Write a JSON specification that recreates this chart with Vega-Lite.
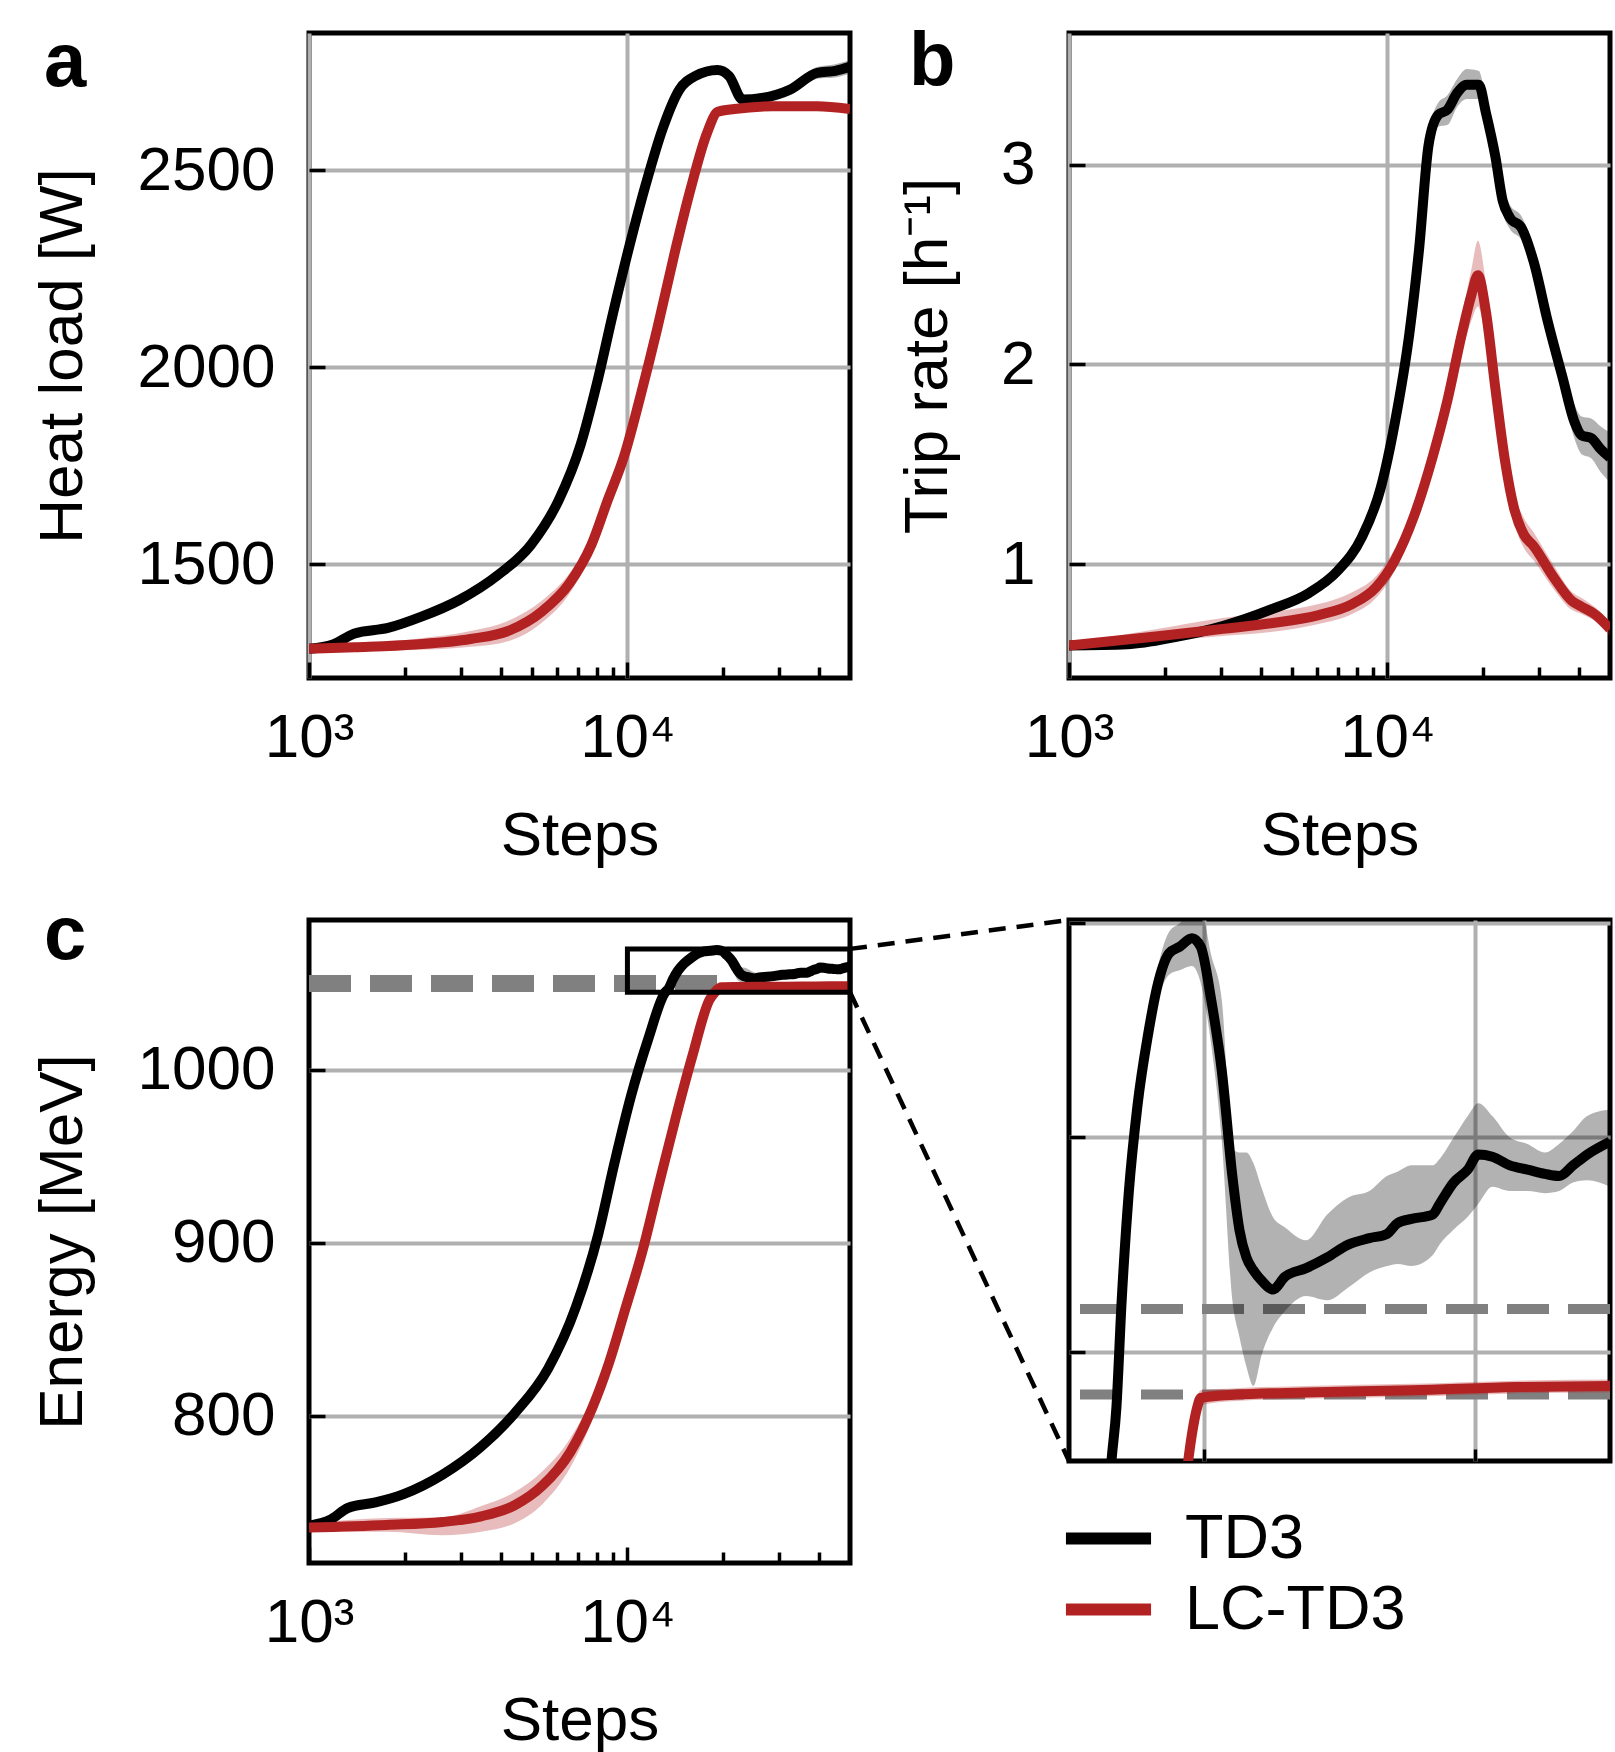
{
  "$schema": "https://vega.github.io/schema/vega-lite/v6.json",
  "padding": {"left": 28, "top": 21, "right": 0, "bottom": 0},
  "bounds": "flush",
  "columns": 2,
  "spacing": {"row": 242, "column": 219},
  "resolve": {"scale": {"color": "independent", "fill": "independent"}, "legend": {"color": "independent", "fill": "independent"}},
  "config": {
    "font": "Liberation Sans",
    "view": {"stroke": "black", "strokeWidth": 5},
    "axis": {
      "domain": false,
      "grid": true, "gridColor": "#b0b0b0", "gridWidth": 4,
      "ticks": true, "tickColor": "black", "tickWidth": 3.5, "tickSize": -16,
      "labelFont": "Liberation Sans", "labelFontSize": 62, "labelColor": "black", "labelPadding": 50,
      "labelFlush": false, "labelOverlap": false, "format": "d",
      "titleFont": "Liberation Sans", "titleFontSize": 62, "titleFontWeight": "normal", "titleColor": "black"
    },
    "line": {"interpolate": "monotone"},
    "area": {"interpolate": "monotone"},
    "title": {"font": "Liberation Sans", "fontSize": 76, "fontWeight": "bold", "color": "black", "anchor": "start", "frame": "group", "offset": 0, "baseline": "alphabetic"}
  },
  "datasets": {
    "a": [
      {"step": 1000, "mean": 1285, "lo": 1278, "hi": 1292, "algo": "TD3"},
      {"step": 1189, "mean": 1296, "lo": 1288, "hi": 1304, "algo": "TD3"},
      {"step": 1390, "mean": 1324, "lo": 1315, "hi": 1333, "algo": "TD3"},
      {"step": 1770, "mean": 1338, "lo": 1328, "hi": 1348, "algo": "TD3"},
      {"step": 2244, "mean": 1366, "lo": 1355, "hi": 1377, "algo": "TD3"},
      {"step": 2965, "mean": 1409, "lo": 1397, "hi": 1421, "algo": "TD3"},
      {"step": 3917, "mean": 1472, "lo": 1459, "hi": 1485, "algo": "TD3"},
      {"step": 4977, "mean": 1549, "lo": 1535, "hi": 1563, "algo": "TD3"},
      {"step": 6081, "mean": 1662, "lo": 1648, "hi": 1676, "algo": "TD3"},
      {"step": 7129, "mean": 1803, "lo": 1789, "hi": 1817, "algo": "TD3"},
      {"step": 8017, "mean": 1958, "lo": 1944, "hi": 1972, "algo": "TD3"},
      {"step": 9036, "mean": 2141, "lo": 2127, "hi": 2155, "algo": "TD3"},
      {"step": 10162, "mean": 2310, "lo": 2296, "hi": 2324, "algo": "TD3"},
      {"step": 11429, "mean": 2465, "lo": 2452, "hi": 2478, "algo": "TD3"},
      {"step": 12912, "mean": 2606, "lo": 2594, "hi": 2618, "algo": "TD3"},
      {"step": 14555, "mean": 2704, "lo": 2693, "hi": 2715, "algo": "TD3"},
      {"step": 16368, "mean": 2739, "lo": 2729, "hi": 2749, "algo": "TD3"},
      {"step": 19187, "mean": 2754, "lo": 2744, "hi": 2764, "algo": "TD3"},
      {"step": 20845, "mean": 2739, "lo": 2729, "hi": 2749, "algo": "TD3"},
      {"step": 23014, "mean": 2679, "lo": 2668, "hi": 2690, "algo": "TD3"},
      {"step": 26485, "mean": 2683, "lo": 2670, "hi": 2696, "algo": "TD3"},
      {"step": 32359, "mean": 2704, "lo": 2690, "hi": 2718, "algo": "TD3"},
      {"step": 39446, "mean": 2747, "lo": 2732, "hi": 2762, "algo": "TD3"},
      {"step": 45000, "mean": 2752, "lo": 2735, "hi": 2769, "algo": "TD3"},
      {"step": 50000, "mean": 2762, "lo": 2745, "hi": 2779, "algo": "TD3"},
      {"step": 1000, "mean": 1285, "lo": 1280, "hi": 1290, "algo": "LC-TD3"},
      {"step": 1390, "mean": 1289, "lo": 1280, "hi": 1298, "algo": "LC-TD3"},
      {"step": 2153, "mean": 1296, "lo": 1282, "hi": 1310, "algo": "LC-TD3"},
      {"step": 3214, "mean": 1310, "lo": 1290, "hi": 1330, "algo": "LC-TD3"},
      {"step": 4246, "mean": 1331, "lo": 1305, "hi": 1357, "algo": "LC-TD3"},
      {"step": 5395, "mean": 1380, "lo": 1352, "hi": 1408, "algo": "LC-TD3"},
      {"step": 6577, "mean": 1451, "lo": 1425, "hi": 1477, "algo": "LC-TD3"},
      {"step": 7709, "mean": 1549, "lo": 1528, "hi": 1570, "algo": "LC-TD3"},
      {"step": 8670, "mean": 1662, "lo": 1645, "hi": 1679, "algo": "LC-TD3"},
      {"step": 9772, "mean": 1775, "lo": 1760, "hi": 1790, "algo": "LC-TD3"},
      {"step": 11015, "mean": 1930, "lo": 1917, "hi": 1943, "algo": "LC-TD3"},
      {"step": 12417, "mean": 2099, "lo": 2087, "hi": 2111, "algo": "LC-TD3"},
      {"step": 13996, "mean": 2282, "lo": 2271, "hi": 2293, "algo": "LC-TD3"},
      {"step": 15776, "mean": 2451, "lo": 2441, "hi": 2461, "algo": "LC-TD3"},
      {"step": 17742, "mean": 2592, "lo": 2583, "hi": 2601, "algo": "LC-TD3"},
      {"step": 19231, "mean": 2648, "lo": 2640, "hi": 2656, "algo": "LC-TD3"},
      {"step": 21677, "mean": 2655, "lo": 2647, "hi": 2663, "algo": "LC-TD3"},
      {"step": 28642, "mean": 2662, "lo": 2654, "hi": 2670, "algo": "LC-TD3"},
      {"step": 39355, "mean": 2662, "lo": 2654, "hi": 2670, "algo": "LC-TD3"},
      {"step": 50000, "mean": 2655, "lo": 2646, "hi": 2664, "algo": "LC-TD3"}
    ],
    "b": [
      {"step": 1000, "mean": 0.593, "lo": 0.585, "hi": 0.601, "algo": "TD3"},
      {"step": 1524, "mean": 0.599, "lo": 0.59, "hi": 0.608, "algo": "TD3"},
      {"step": 2153, "mean": 0.635, "lo": 0.625, "hi": 0.645, "algo": "TD3"},
      {"step": 3041, "mean": 0.69, "lo": 0.678, "hi": 0.702, "algo": "TD3"},
      {"step": 4305, "mean": 0.773, "lo": 0.758, "hi": 0.788, "algo": "TD3"},
      {"step": 5675, "mean": 0.856, "lo": 0.838, "hi": 0.874, "algo": "TD3"},
      {"step": 6982, "mean": 0.967, "lo": 0.945, "hi": 0.989, "algo": "TD3"},
      {"step": 8299, "mean": 1.133, "lo": 1.11, "hi": 1.156, "algo": "TD3"},
      {"step": 9528, "mean": 1.382, "lo": 1.36, "hi": 1.404, "algo": "TD3"},
      {"step": 10568, "mean": 1.714, "lo": 1.69, "hi": 1.738, "algo": "TD3"},
      {"step": 11722, "mean": 2.156, "lo": 2.13, "hi": 2.182, "algo": "TD3"},
      {"step": 12560, "mean": 2.571, "lo": 2.54, "hi": 2.6, "algo": "TD3"},
      {"step": 13459, "mean": 3.097, "lo": 3.05, "hi": 3.14, "algo": "TD3"},
      {"step": 14421, "mean": 3.249, "lo": 3.19, "hi": 3.31, "algo": "TD3"},
      {"step": 15453, "mean": 3.277, "lo": 3.2, "hi": 3.35, "algo": "TD3"},
      {"step": 16558, "mean": 3.36, "lo": 3.29, "hi": 3.43, "algo": "TD3"},
      {"step": 17742, "mean": 3.401, "lo": 3.33, "hi": 3.48, "algo": "TD3"},
      {"step": 19364, "mean": 3.401, "lo": 3.33, "hi": 3.47, "algo": "TD3"},
      {"step": 20370, "mean": 3.263, "lo": 3.2, "hi": 3.33, "algo": "TD3"},
      {"step": 21827, "mean": 3.041, "lo": 2.98, "hi": 3.1, "algo": "TD3"},
      {"step": 23014, "mean": 2.82, "lo": 2.76, "hi": 2.88, "algo": "TD3"},
      {"step": 24210, "mean": 2.737, "lo": 2.68, "hi": 2.8, "algo": "TD3"},
      {"step": 26424, "mean": 2.682, "lo": 2.62, "hi": 2.74, "algo": "TD3"},
      {"step": 28774, "mean": 2.516, "lo": 2.45, "hi": 2.58, "algo": "TD3"},
      {"step": 31915, "mean": 2.212, "lo": 2.15, "hi": 2.28, "algo": "TD3"},
      {"step": 35481, "mean": 1.935, "lo": 1.87, "hi": 2.0, "algo": "TD3"},
      {"step": 38637, "mean": 1.714, "lo": 1.63, "hi": 1.8, "algo": "TD3"},
      {"step": 40738, "mean": 1.645, "lo": 1.55, "hi": 1.74, "algo": "TD3"},
      {"step": 43652, "mean": 1.631, "lo": 1.53, "hi": 1.73, "algo": "TD3"},
      {"step": 46774, "mean": 1.575, "lo": 1.46, "hi": 1.69, "algo": "TD3"},
      {"step": 50000, "mean": 1.534, "lo": 1.41, "hi": 1.66, "algo": "TD3"},
      {"step": 1000, "mean": 0.593, "lo": 0.585, "hi": 0.601, "algo": "LC-TD3"},
      {"step": 1811, "mean": 0.635, "lo": 0.61, "hi": 0.67, "algo": "LC-TD3"},
      {"step": 3041, "mean": 0.676, "lo": 0.64, "hi": 0.73, "algo": "LC-TD3"},
      {"step": 4305, "mean": 0.704, "lo": 0.66, "hi": 0.76, "algo": "LC-TD3"},
      {"step": 6081, "mean": 0.745, "lo": 0.7, "hi": 0.8, "algo": "LC-TD3"},
      {"step": 7745, "mean": 0.8, "lo": 0.75, "hi": 0.86, "algo": "LC-TD3"},
      {"step": 9204, "mean": 0.884, "lo": 0.83, "hi": 0.94, "algo": "LC-TD3"},
      {"step": 10568, "mean": 1.022, "lo": 0.97, "hi": 1.08, "algo": "LC-TD3"},
      {"step": 12134, "mean": 1.243, "lo": 1.19, "hi": 1.3, "algo": "LC-TD3"},
      {"step": 13932, "mean": 1.548, "lo": 1.49, "hi": 1.61, "algo": "LC-TD3"},
      {"step": 15453, "mean": 1.824, "lo": 1.75, "hi": 1.9, "algo": "LC-TD3"},
      {"step": 17140, "mean": 2.156, "lo": 2.06, "hi": 2.25, "algo": "LC-TD3"},
      {"step": 18365, "mean": 2.35, "lo": 2.22, "hi": 2.48, "algo": "LC-TD3"},
      {"step": 19231, "mean": 2.447, "lo": 2.29, "hi": 2.62, "algo": "LC-TD3"},
      {"step": 20370, "mean": 2.267, "lo": 2.12, "hi": 2.41, "algo": "LC-TD3"},
      {"step": 21827, "mean": 1.88, "lo": 1.77, "hi": 1.99, "algo": "LC-TD3"},
      {"step": 23388, "mean": 1.52, "lo": 1.43, "hi": 1.61, "algo": "LC-TD3"},
      {"step": 25061, "mean": 1.271, "lo": 1.2, "hi": 1.35, "algo": "LC-TD3"},
      {"step": 26853, "mean": 1.147, "lo": 1.08, "hi": 1.23, "algo": "LC-TD3"},
      {"step": 28774, "mean": 1.091, "lo": 1.02, "hi": 1.16, "algo": "LC-TD3"},
      {"step": 33113, "mean": 0.939, "lo": 0.88, "hi": 1.0, "algo": "LC-TD3"},
      {"step": 38019, "mean": 0.815, "lo": 0.77, "hi": 0.86, "algo": "LC-TD3"},
      {"step": 40738, "mean": 0.787, "lo": 0.75, "hi": 0.83, "algo": "LC-TD3"},
      {"step": 45186, "mean": 0.745, "lo": 0.71, "hi": 0.78, "algo": "LC-TD3"},
      {"step": 50000, "mean": 0.676, "lo": 0.64, "hi": 0.71, "algo": "LC-TD3"}
    ],
    "c": [
      {"step": 1000, "mean": 736.5, "lo": 734, "hi": 739, "algo": "TD3"},
      {"step": 1175, "mean": 740.3, "lo": 738, "hi": 742.6, "algo": "TD3"},
      {"step": 1324, "mean": 746.8, "lo": 744.5, "hi": 749, "algo": "TD3"},
      {"step": 1618, "mean": 750, "lo": 747.5, "hi": 752.5, "algo": "TD3"},
      {"step": 1982, "mean": 754.8, "lo": 752, "hi": 757.6, "algo": "TD3"},
      {"step": 2624, "mean": 766, "lo": 763, "hi": 769, "algo": "TD3"},
      {"step": 3475, "mean": 782.3, "lo": 779, "hi": 785.6, "algo": "TD3"},
      {"step": 4426, "mean": 801.6, "lo": 798, "hi": 805.2, "algo": "TD3"},
      {"step": 5636, "mean": 827.4, "lo": 824, "hi": 831, "algo": "TD3"},
      {"step": 6887, "mean": 862.9, "lo": 859.5, "hi": 866.3, "algo": "TD3"},
      {"step": 8091, "mean": 904.8, "lo": 901.5, "hi": 908.1, "algo": "TD3"},
      {"step": 9120, "mean": 946.8, "lo": 943.5, "hi": 950, "algo": "TD3"},
      {"step": 10280, "mean": 985.5, "lo": 982.5, "hi": 988.5, "algo": "TD3"},
      {"step": 11614, "mean": 1017.7, "lo": 1015, "hi": 1020.4, "algo": "TD3"},
      {"step": 13092, "mean": 1044.5, "lo": 1043, "hi": 1046, "algo": "TD3"},
      {"step": 13506, "mean": 1047.4, "lo": 1046.9, "hi": 1047.9, "algo": "TD3"},
      {"step": 13896, "mean": 1052.4, "lo": 1051.9, "hi": 1052.9, "algo": "TD3"},
      {"step": 14416, "mean": 1057.4, "lo": 1056.9, "hi": 1057.9, "algo": "TD3"},
      {"step": 15065, "mean": 1061.5, "lo": 1061, "hi": 1062, "algo": "TD3"},
      {"step": 15844, "mean": 1064.8, "lo": 1064.2, "hi": 1065.4, "algo": "TD3"},
      {"step": 16623, "mean": 1067.3, "lo": 1066.5, "hi": 1068.1, "algo": "TD3"},
      {"step": 17403, "mean": 1068.6, "lo": 1067.6, "hi": 1069.6, "algo": "TD3"},
      {"step": 18182, "mean": 1068.9, "lo": 1067.8, "hi": 1070.0, "algo": "TD3"},
      {"step": 19091, "mean": 1069.3, "lo": 1068.0, "hi": 1070.6, "algo": "TD3"},
      {"step": 19740, "mean": 1068.9, "lo": 1067.2, "hi": 1070.6, "algo": "TD3"},
      {"step": 20519, "mean": 1066.4, "lo": 1064.3, "hi": 1068.5, "algo": "TD3"},
      {"step": 21299, "mean": 1063.1, "lo": 1059.8, "hi": 1066.4, "algo": "TD3"},
      {"step": 22078, "mean": 1058.2, "lo": 1052.4, "hi": 1059.5, "algo": "TD3"},
      {"step": 22597, "mean": 1055.7, "lo": 1050.7, "hi": 1059.3, "algo": "TD3"},
      {"step": 23117, "mean": 1054.4, "lo": 1049.3, "hi": 1059.3, "algo": "TD3"},
      {"step": 23636, "mean": 1053.8, "lo": 1048.4, "hi": 1058.8, "algo": "TD3"},
      {"step": 24270, "mean": 1053.3, "lo": 1049.9, "hi": 1057.6, "algo": "TD3"},
      {"step": 25065, "mean": 1052.9, "lo": 1051.1, "hi": 1056.3, "algo": "TD3"},
      {"step": 25974, "mean": 1053.5, "lo": 1051.9, "hi": 1055.8, "algo": "TD3"},
      {"step": 27532, "mean": 1053.9, "lo": 1052.6, "hi": 1055.2, "algo": "TD3"},
      {"step": 29091, "mean": 1054.4, "lo": 1052.4, "hi": 1056.4, "algo": "TD3"},
      {"step": 30649, "mean": 1055.0, "lo": 1053.0, "hi": 1057.2, "algo": "TD3"},
      {"step": 32208, "mean": 1055.3, "lo": 1053.7, "hi": 1057.5, "algo": "TD3"},
      {"step": 33506, "mean": 1055.5, "lo": 1054.0, "hi": 1058.2, "algo": "TD3"},
      {"step": 34286, "mean": 1056.0, "lo": 1054.1, "hi": 1058.4, "algo": "TD3"},
      {"step": 35325, "mean": 1056.2, "lo": 1054.0, "hi": 1058.7, "algo": "TD3"},
      {"step": 36883, "mean": 1056.4, "lo": 1054.5, "hi": 1058.7, "algo": "TD3"},
      {"step": 37403, "mean": 1056.9, "lo": 1055.0, "hi": 1059.0, "algo": "TD3"},
      {"step": 38442, "mean": 1057.9, "lo": 1055.7, "hi": 1060.0, "algo": "TD3"},
      {"step": 39481, "mean": 1058.5, "lo": 1056.3, "hi": 1061.0, "algo": "TD3"},
      {"step": 40260, "mean": 1059.2, "lo": 1056.9, "hi": 1061.6, "algo": "TD3"},
      {"step": 41299, "mean": 1059.1, "lo": 1057.7, "hi": 1061.0, "algo": "TD3"},
      {"step": 42597, "mean": 1058.7, "lo": 1057.5, "hi": 1060.0, "algo": "TD3"},
      {"step": 43896, "mean": 1058.5, "lo": 1057.5, "hi": 1059.7, "algo": "TD3"},
      {"step": 45195, "mean": 1058.3, "lo": 1057.4, "hi": 1059.3, "algo": "TD3"},
      {"step": 46234, "mean": 1058.2, "lo": 1057.5, "hi": 1059.7, "algo": "TD3"},
      {"step": 47273, "mean": 1058.7, "lo": 1057.9, "hi": 1060.3, "algo": "TD3"},
      {"step": 48312, "mean": 1059.2, "lo": 1058.0, "hi": 1061.0, "algo": "TD3"},
      {"step": 50000, "mean": 1059.8, "lo": 1057.7, "hi": 1061.3, "algo": "TD3"},
      {"step": 1000, "mean": 735.5, "lo": 733, "hi": 738, "algo": "LC-TD3"},
      {"step": 1754, "mean": 737, "lo": 733, "hi": 741, "algo": "LC-TD3"},
      {"step": 2624, "mean": 738.7, "lo": 731, "hi": 741.5, "algo": "LC-TD3"},
      {"step": 3475, "mean": 742, "lo": 733, "hi": 748, "algo": "LC-TD3"},
      {"step": 4426, "mean": 748.4, "lo": 738, "hi": 756, "algo": "LC-TD3"},
      {"step": 5408, "mean": 759.7, "lo": 749, "hi": 768, "algo": "LC-TD3"},
      {"step": 6607, "mean": 779, "lo": 770, "hi": 787, "algo": "LC-TD3"},
      {"step": 7762, "mean": 804.8, "lo": 798, "hi": 811, "algo": "LC-TD3"},
      {"step": 8750, "mean": 830.6, "lo": 826, "hi": 835, "algo": "LC-TD3"},
      {"step": 9886, "mean": 862.9, "lo": 859, "hi": 867, "algo": "LC-TD3"},
      {"step": 11143, "mean": 895.2, "lo": 892, "hi": 898.5, "algo": "LC-TD3"},
      {"step": 12560, "mean": 933.9, "lo": 931, "hi": 937, "algo": "LC-TD3"},
      {"step": 14191, "mean": 972.6, "lo": 970, "hi": 975, "algo": "LC-TD3"},
      {"step": 15996, "mean": 1008.1, "lo": 1006, "hi": 1010.2, "algo": "LC-TD3"},
      {"step": 18072, "mean": 1040.3, "lo": 1038.8, "hi": 1041.8, "algo": "LC-TD3"},
      {"step": 18831, "mean": 1045, "lo": 1044.2, "hi": 1045.8, "algo": "LC-TD3"},
      {"step": 19481, "mean": 1047.4, "lo": 1046.9, "hi": 1047.9, "algo": "LC-TD3"},
      {"step": 19740, "mean": 1047.85, "lo": 1047.5, "hi": 1048.2, "algo": "LC-TD3"},
      {"step": 22338, "mean": 1048.0, "lo": 1047.7, "hi": 1048.3, "algo": "LC-TD3"},
      {"step": 27532, "mean": 1048.1, "lo": 1047.8, "hi": 1048.4, "algo": "LC-TD3"},
      {"step": 35325, "mean": 1048.2, "lo": 1047.9, "hi": 1048.5, "algo": "LC-TD3"},
      {"step": 43117, "mean": 1048.35, "lo": 1048.05, "hi": 1048.65, "algo": "LC-TD3"},
      {"step": 50000, "mean": 1048.4, "lo": 1048.1, "hi": 1048.7, "algo": "LC-TD3"}
    ]
  },
  "concat": [
    {
      "width": 541, "height": 645,
      "title": {"text": "a", "dx": -265, "dy": 73},
      "data": {"name": "a"},
      "resolve": {"axis": {"x": "independent"}},
      "layer": [
        {
          "mark": {"type": "area", "fillOpacity": 0.3, "clip": true},
          "encoding": {
            "x": {"field": "step", "type": "quantitative", "scale": {"type": "log", "domain": [1000, 50000], "nice": false},
                  "axis": {"orient": "bottom", "values": [1000, 10000], "labelExpr": "datum.value == 1000 ? '10³' : '10⁴'", "title": "Steps", "labelPadding": 45, "titlePadding": 37}},
            "y": {"field": "lo", "type": "quantitative", "scale": {"domain": [1211, 2848], "nice": false, "zero": false},
                  "axis": {"values": [1500, 2000, 2500], "title": "Heat load [W]", "titlePadding": 43}},
            "y2": {"field": "hi"},
            "fill": {"field": "algo", "type": "nominal", "scale": {"domain": ["TD3", "LC-TD3"], "range": ["#000000", "#b22222"]}, "legend": null}
          }
        },
        {
          "mark": {"type": "line", "strokeWidth": 10, "clip": true},
          "encoding": {
            "x": {"field": "step", "type": "quantitative",
                  "axis": {"orient": "bottom", "values": [2000, 3000, 4000, 5000, 6000, 7000, 8000, 9000, 20000, 30000, 40000], "labels": false, "grid": false, "title": null, "tickSize": -11}},
            "y": {"field": "mean", "type": "quantitative",
                  "axis": {"values": [1500, 2000, 2500], "title": "Heat load [W]", "titlePadding": 43}},
            "color": {"field": "algo", "type": "nominal", "scale": {"domain": ["TD3", "LC-TD3"], "range": ["#000000", "#b22222"]}, "legend": null}
          }
        }
      ]
    },
    {
      "width": 541, "height": 645,
      "title": {"text": "b", "dx": -160, "dy": 72},
      "data": {"name": "b"},
      "resolve": {"axis": {"x": "independent"}},
      "layer": [
        {
          "mark": {"type": "area", "fillOpacity": 0.3, "clip": true},
          "encoding": {
            "x": {"field": "step", "type": "quantitative", "scale": {"type": "log", "domain": [1000, 50000], "nice": false},
                  "axis": {"orient": "bottom", "values": [1000, 10000], "labelExpr": "datum.value == 1000 ? '10³' : '10⁴'", "title": "Steps", "labelPadding": 45, "titlePadding": 37}},
            "y": {"field": "lo", "type": "quantitative", "scale": {"domain": [0.43, 3.66], "nice": false, "zero": false},
                  "axis": {"values": [1, 2, 3], "title": "Trip rate [h⁻¹]", "titlePadding": 41}},
            "y2": {"field": "hi"},
            "fill": {"field": "algo", "type": "nominal", "scale": {"domain": ["TD3", "LC-TD3"], "range": ["#000000", "#b22222"]}, "legend": null}
          }
        },
        {
          "mark": {"type": "line", "strokeWidth": 10, "clip": true},
          "encoding": {
            "x": {"field": "step", "type": "quantitative",
                  "axis": {"orient": "bottom", "values": [2000, 3000, 4000, 5000, 6000, 7000, 8000, 9000, 20000, 30000, 40000], "labels": false, "grid": false, "title": null, "tickSize": -11}},
            "y": {"field": "mean", "type": "quantitative",
                  "axis": {"values": [1, 2, 3], "title": "Trip rate [h⁻¹]", "titlePadding": 41}},
            "color": {"field": "algo", "type": "nominal", "scale": {"domain": ["TD3", "LC-TD3"], "range": ["#000000", "#b22222"]}, "legend": null}
          }
        }
      ]
    },
    {
      "width": 541, "height": 643,
      "title": {"text": "c", "dx": -265, "dy": 61},
      "resolve": {"axis": {"x": "independent"}},
      "layer": [
        {
          "data": {"values": [{"from": 1000, "to": 20000, "energy": 1050}]},
          "mark": {"type": "rule", "color": "#808080", "strokeWidth": 17, "strokeDash": [42, 19]},
          "encoding": {
            "x": {"field": "from", "type": "quantitative", "scale": {"type": "log", "domain": [1000, 50000], "nice": false}, "axis": null},
            "x2": {"field": "to"},
            "y": {"field": "energy", "type": "quantitative", "scale": {"domain": [715, 1086.7], "nice": false, "zero": false},
                  "axis": {"values": [800, 900, 1000], "title": "Energy [MeV]", "titlePadding": 43}}
          }
        },
        {
          "data": {"name": "c"},
          "mark": {"type": "area", "fillOpacity": 0.3, "clip": true},
          "encoding": {
            "x": {"field": "step", "type": "quantitative",
                  "axis": {"orient": "bottom", "values": [1000, 10000], "labelExpr": "datum.value == 1000 ? '10³' : '10⁴'", "title": "Steps", "labelPadding": 45, "titlePadding": 37}},
            "y": {"field": "lo", "type": "quantitative",
                  "axis": {"values": [800, 900, 1000], "title": "Energy [MeV]", "titlePadding": 43}},
            "y2": {"field": "hi"},
            "fill": {"field": "algo", "type": "nominal", "scale": {"domain": ["TD3", "LC-TD3"], "range": ["#000000", "#b22222"]}, "legend": null}
          }
        },
        {
          "data": {"name": "c"},
          "mark": {"type": "line", "strokeWidth": 10, "clip": true},
          "encoding": {
            "x": {"field": "step", "type": "quantitative",
                  "axis": {"orient": "bottom", "values": [2000, 3000, 4000, 5000, 6000, 7000, 8000, 9000, 20000, 30000, 40000], "labels": false, "grid": false, "title": null, "tickSize": -11}},
            "y": {"field": "mean", "type": "quantitative",
                  "axis": {"values": [800, 900, 1000], "title": "Energy [MeV]", "titlePadding": 43}},
            "color": {"field": "algo", "type": "nominal", "scale": {"domain": ["TD3", "LC-TD3"], "range": ["#000000", "#b22222"]}, "legend": null}
          }
        },
        {
          "data": {"values": [{"from": 10000, "to": 50000, "low": 1045, "high": 1070}]},
          "mark": {"type": "rect", "fill": null, "fillOpacity": 0, "stroke": "black", "strokeWidth": 5},
          "encoding": {
            "x": {"field": "from", "type": "quantitative", "axis": null},
            "x2": {"field": "to"},
            "y": {"field": "low", "type": "quantitative",
                  "axis": {"values": [800, 900, 1000], "title": "Energy [MeV]", "titlePadding": 43}},
            "y2": {"field": "high"}
          }
        },
        {
          "data": {"values": [
            {"x1": 50000, "y1": 1070, "xe": 243600, "ye": 1086.7},
            {"x1": 50000, "y1": 1045, "xe": 243600, "ye": 774}
          ]},
          "mark": {"type": "rule", "color": "black", "strokeWidth": 4.5, "strokeDash": [17, 11], "clip": false},
          "encoding": {
            "x": {"field": "x1", "type": "quantitative", "axis": null},
            "x2": {"field": "xe"},
            "y": {"field": "y1", "type": "quantitative",
                  "axis": {"values": [800, 900, 1000], "title": "Energy [MeV]", "titlePadding": 43}},
            "y2": {"field": "ye"}
          }
        }
      ]
    },
    {
      "width": 541, "height": 541,
      "resolve": {"axis": {"x": "independent"}},
      "layer": [
        {
          "data": {"values": [{"energy": 1052}, {"energy": 1048}]},
          "mark": {"type": "rule", "color": "#808080", "strokeWidth": 10, "strokeDash": [42, 19]},
          "encoding": {
            "y": {"field": "energy", "type": "quantitative", "scale": {"domain": [1044.9, 1070.15], "nice": false, "zero": false},
                  "axis": {"values": [1050, 1060, 1070], "labels": false, "title": null}}
          }
        },
        {
          "data": {"name": "c"},
          "transform": [{"filter": "datum.algo == 'TD3'"}],
          "mark": {"type": "area", "fill": "#000000", "fillOpacity": 0.3, "clip": true},
          "encoding": {
            "x": {"field": "step", "type": "quantitative", "scale": {"type": "linear", "domain": [10000, 50000], "nice": false, "zero": false},
                  "axis": {"orient": "bottom", "values": [20000, 40000], "labels": false, "title": null, "tickSize": -12}},
            "y": {"field": "lo", "type": "quantitative",
                  "axis": {"values": [1050, 1060, 1070], "labels": false, "title": null}},
            "y2": {"field": "hi"}
          }
        },
        {
          "data": {"name": "c"},
          "transform": [{"filter": "datum.algo == 'LC-TD3'"}],
          "mark": {"type": "area", "fill": "#b22222", "fillOpacity": 0.3, "clip": true},
          "encoding": {
            "x": {"field": "step", "type": "quantitative", "axis": null},
            "y": {"field": "lo", "type": "quantitative",
                  "axis": {"values": [1050, 1060, 1070], "labels": false, "title": null}},
            "y2": {"field": "hi"}
          }
        },
        {
          "data": {"name": "c"},
          "mark": {"type": "line", "strokeWidth": 10, "clip": true},
          "encoding": {
            "x": {"field": "step", "type": "quantitative", "axis": null},
            "y": {"field": "mean", "type": "quantitative",
                  "axis": {"values": [1050, 1060, 1070], "labels": false, "title": null}},
            "color": {"field": "algo", "type": "nominal", "scale": {"domain": ["TD3", "LC-TD3"], "range": ["#000000", "#b22222"]},
                      "legend": {"orient": "none", "legendX": 8, "legendY": 587, "direction": "vertical", "title": null,
                                 "symbolType": "M-1.85,0L1.85,0", "symbolSize": 2116, "symbolStrokeWidth": 12,
                                 "labelFont": "Liberation Sans", "labelFontSize": 63, "labelColor": "black", "labelOffset": 45, "labelLimit": 500,
                                 "rowPadding": 7, "padding": 0}}
          }
        }
      ]
    }
  ]
}
